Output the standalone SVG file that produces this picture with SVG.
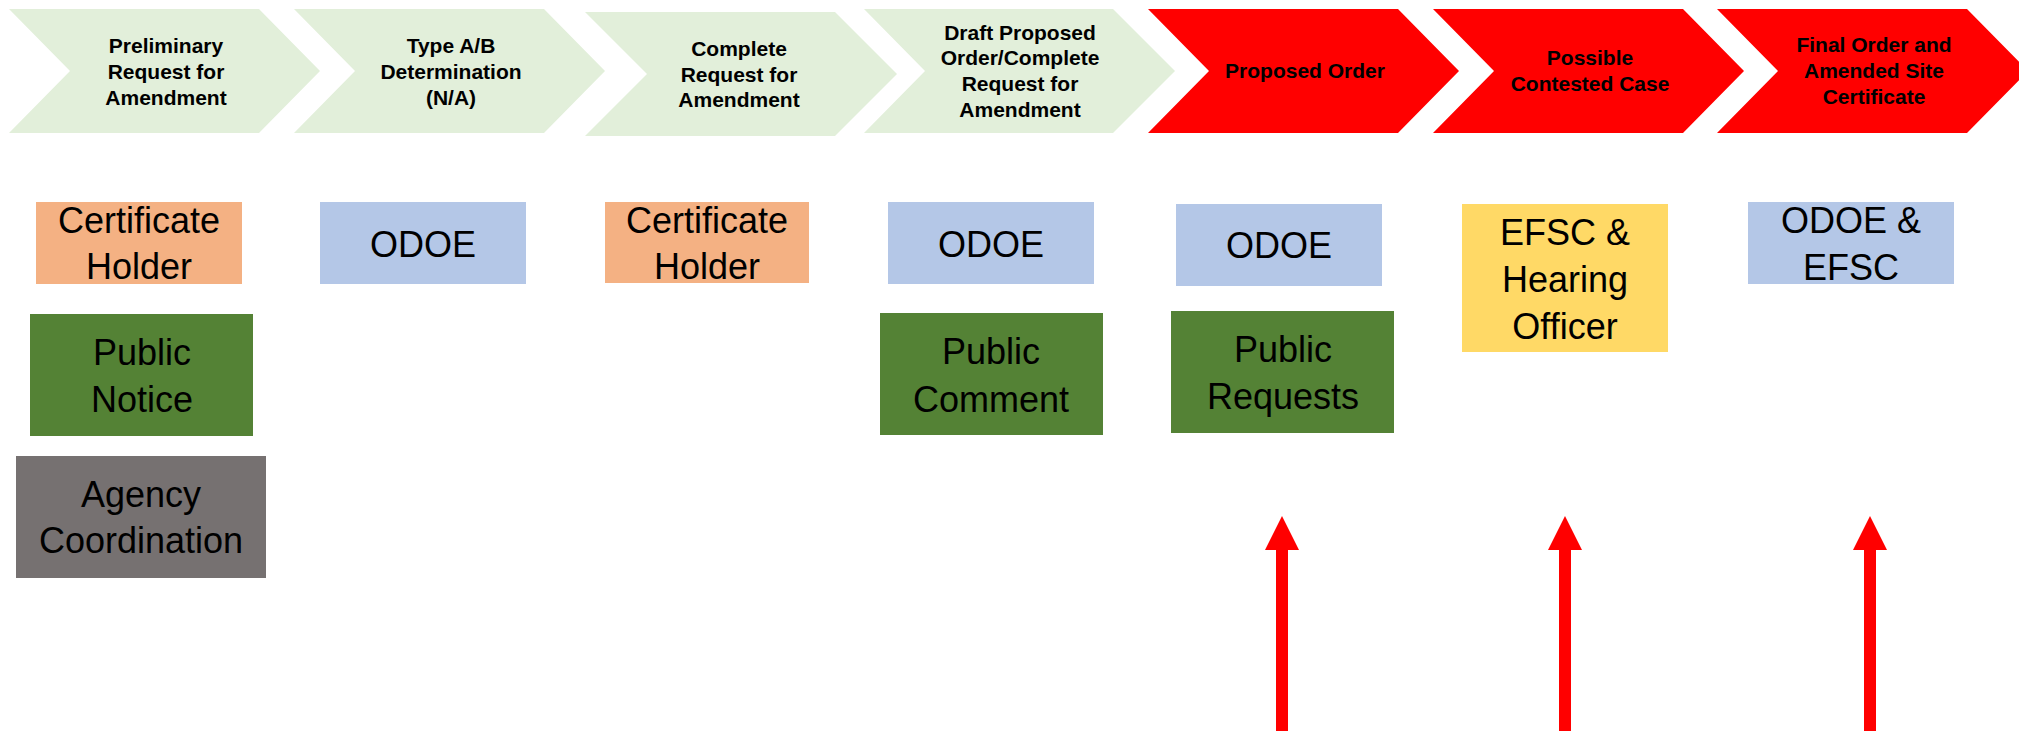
<svg xmlns="http://www.w3.org/2000/svg" width="2019" height="733" viewBox="0 0 2019 733">
<style>
.chg{fill:#E2EFDA}
.chr{fill:#FF0000}
.ct{font-family:"Liberation Sans",Arial,sans-serif;font-weight:bold;font-size:21px;fill:#000;text-anchor:middle}
.bt{font-family:"Liberation Sans",Arial,sans-serif;font-size:36px;fill:#000;text-anchor:middle}
.peach{fill:#F4B183}
.blue{fill:#B4C7E7}
.green{fill:#548235}
.gray{fill:#767171}
.yellow{fill:#FFD966}
.arr{stroke:#FF0000;stroke-width:12;fill:none}
</style>
<defs>
<marker id="ah" markerUnits="userSpaceOnUse" markerWidth="34" markerHeight="34" viewBox="0 0 33 33" refX="0" refY="16.5" orient="auto">
<path d="M0,0 L33,16.5 L0,33 z" fill="#FF0000"/>
</marker>
</defs>
<rect width="2019" height="733" fill="#FFFFFF"/>

<g id="step1">
<polygon class="chg" points="9,9 259,9 320,71 259,133 9,133 70,71"/>
<text class="ct" x="166" y="53">Preliminary</text>
<text class="ct" x="166" y="79">Request for</text>
<text class="ct" x="166" y="105">Amendment</text>
</g>
<g id="step2">
<polygon class="chg" points="294,9 544,9 605,71 544,133 294,133 355,71"/>
<text class="ct" x="451" y="53">Type A/B</text>
<text class="ct" x="451" y="79">Determination</text>
<text class="ct" x="451" y="105">(N/A)</text>
</g>
<g id="step3">
<polygon class="chg" points="585,12 835,12 897,74 835,136 585,136 647,74"/>
<text class="ct" x="739" y="56">Complete</text>
<text class="ct" x="739" y="82">Request for</text>
<text class="ct" x="739" y="107">Amendment</text>
</g>
<g id="step4">
<polygon class="chg" points="864,9 1113,9 1175,71 1113,133 864,133 925,71"/>
<text class="ct" x="1020" y="40">Draft Proposed</text>
<text class="ct" x="1020" y="65">Order/Complete</text>
<text class="ct" x="1020" y="91">Request for</text>
<text class="ct" x="1020" y="117">Amendment</text>
</g>
<g id="step5">
<polygon class="chr" points="1148,9 1398,9 1459,71 1398,133 1148,133 1209,71"/>
<text class="ct" x="1305" y="78">Proposed Order</text>
</g>
<g id="step6">
<polygon class="chr" points="1433,9 1683,9 1744,71 1683,133 1433,133 1494,71"/>
<text class="ct" x="1590" y="65">Possible</text>
<text class="ct" x="1590" y="91">Contested Case</text>
</g>
<g id="step7">
<polygon class="chr" points="1717,9 1967,9 2028,71 1967,133 1717,133 1778,71"/>
<text class="ct" x="1874" y="52">Final Order and</text>
<text class="ct" x="1874" y="78">Amended Site</text>
<text class="ct" x="1874" y="104">Certificate</text>
</g>

<g id="cert-holder-1">
<rect class="peach" x="36" y="202" width="206" height="82"/>
<text class="bt" x="139" y="233">Certificate</text>
<text class="bt" x="139" y="279">Holder</text>
</g>
<g id="public-notice">
<rect class="green" x="30" y="314" width="223" height="122"/>
<text class="bt" x="142" y="365">Public</text>
<text class="bt" x="142" y="412">Notice</text>
</g>
<g id="agency-coordination">
<rect class="gray" x="16" y="456" width="250" height="122"/>
<text class="bt" x="141" y="507">Agency</text>
<text class="bt" x="141" y="553">Coordination</text>
</g>
<g id="odoe-1">
<rect class="blue" x="320" y="202" width="206" height="82"/>
<text class="bt" x="423" y="257">ODOE</text>
</g>
<g id="cert-holder-2">
<rect class="peach" x="605" y="202" width="204" height="81"/>
<text class="bt" x="707" y="233">Certificate</text>
<text class="bt" x="707" y="279">Holder</text>
</g>
<g id="odoe-2">
<rect class="blue" x="888" y="202" width="206" height="82"/>
<text class="bt" x="991" y="257">ODOE</text>
</g>
<g id="public-comment">
<rect class="green" x="880" y="313" width="223" height="122"/>
<text class="bt" x="991" y="364">Public</text>
<text class="bt" x="991" y="412">Comment</text>
</g>
<g id="odoe-3">
<rect class="blue" x="1176" y="204" width="206" height="82"/>
<text class="bt" x="1279" y="258">ODOE</text>
</g>
<g id="public-requests">
<rect class="green" x="1171" y="311" width="223" height="122"/>
<text class="bt" x="1283" y="362">Public</text>
<text class="bt" x="1283" y="409">Requests</text>
</g>
<g id="efsc-hearing">
<rect class="yellow" x="1462" y="204" width="206" height="148"/>
<text class="bt" x="1565" y="245">EFSC &amp;</text>
<text class="bt" x="1565" y="292">Hearing</text>
<text class="bt" x="1565" y="339">Officer</text>
</g>
<g id="odoe-efsc">
<rect class="blue" x="1748" y="202" width="206" height="82"/>
<text class="bt" x="1851" y="233">ODOE &amp;</text>
<text class="bt" x="1851" y="280">EFSC</text>
</g>

<g id="connectors">
<line class="arr" x1="1282" y1="731" x2="1282" y2="550" marker-end="url(#ah)"/>
<line class="arr" x1="1565" y1="731" x2="1565" y2="550" marker-end="url(#ah)"/>
<line class="arr" x1="1870" y1="731" x2="1870" y2="550" marker-end="url(#ah)"/>
</g>
</svg>
